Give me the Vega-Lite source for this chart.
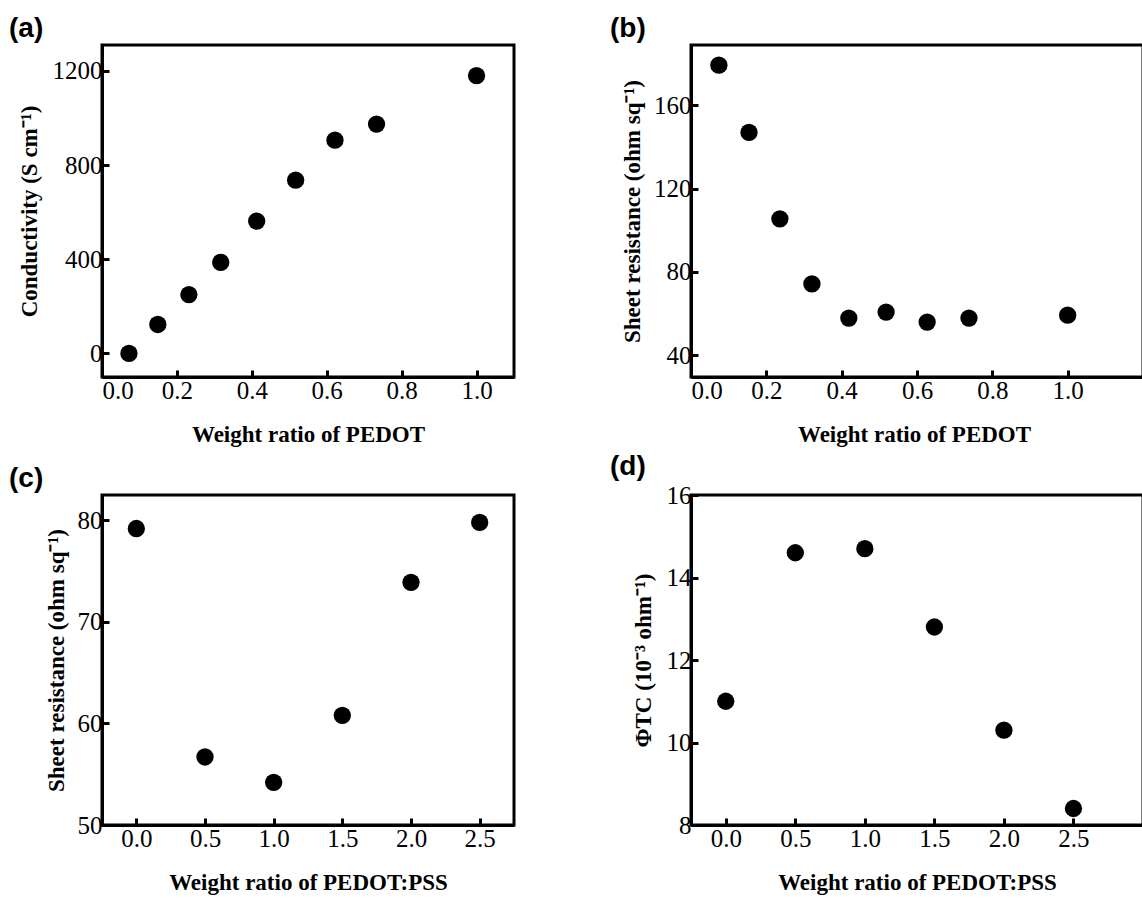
{
  "$schema": "https://vega.github.io/schema/vega-lite/v6.json",
  "background": "white",
  "padding": {"left": 7, "top": 13, "right": 0, "bottom": 0},
  "datasets": {
    "a": [
      {"x": 0.072, "y": 0}, {"x": 0.149, "y": 123}, {"x": 0.232, "y": 250}, {"x": 0.317, "y": 387},
      {"x": 0.413, "y": 562}, {"x": 0.517, "y": 736}, {"x": 0.622, "y": 906}, {"x": 0.733, "y": 974}, {"x": 1.0, "y": 1180}
    ],
    "b": [
      {"x": 0.074, "y": 179.3}, {"x": 0.154, "y": 147}, {"x": 0.236, "y": 105.5}, {"x": 0.321, "y": 74.2},
      {"x": 0.419, "y": 57.8}, {"x": 0.518, "y": 60.7}, {"x": 0.627, "y": 55.9}, {"x": 0.738, "y": 57.8}, {"x": 1.0, "y": 59.2}
    ],
    "c": [
      {"x": 0.0, "y": 79.2}, {"x": 0.5, "y": 56.7}, {"x": 1.0, "y": 54.2}, {"x": 1.5, "y": 60.8}, {"x": 2.0, "y": 73.9}, {"x": 2.5, "y": 79.8}
    ],
    "d": [
      {"x": 0.0, "y": 11.0}, {"x": 0.5, "y": 14.6}, {"x": 1.0, "y": 14.7}, {"x": 1.5, "y": 12.8}, {"x": 2.0, "y": 10.3}, {"x": 2.5, "y": 8.4}
    ]
  },
  "config": {
    "view": {"stroke": "black", "strokeWidth": 3},
    "axis": {
      "zindex": 1,
      "domain": true, "domainColor": "black", "domainWidth": 3,
      "ticks": true, "tickColor": "#000000", "tickOpacity": 1, "tickWidth": 3, "tickSize": -7, "tickCap": "butt",
      "grid": false,
      "labelFont": "Liberation Serif", "labelFontSize": 25, "labelColor": "black", "labelPadding": 7,
      "titleFont": "Liberation Serif", "titleFontSize": 23, "titleFontWeight": "bold", "titleColor": "black"
    },
    "axisX": {"labelPadding": 8, "titlePadding": 20},
    "axisY": {"titlePadding": 11},
    "title": {"font": "Liberation Sans", "fontSize": 28, "fontWeight": "bold", "anchor": "start", "color": "black", "frame": "group", "offset": 2},
    "point": {"filled": true, "color": "black", "opacity": 1, "size": 300}
  },
  "columns": 2,
  "spacing": {"row": 118, "column": 177},
  "bounds": "flush",
  "concat": [
    {
      "title": {"text": "(a)", "dx": -93},
      "width": 412, "height": 332,
      "data": {"name": "a"},
      "mark": {"type": "point", "clip": false},
      "encoding": {
        "x": {"field": "x", "type": "quantitative", "scale": {"domain": [0, 1.1], "nice": false, "zero": false},
              "axis": {"title": "Weight ratio of PEDOT", "values": [0, 0.2, 0.4, 0.6, 0.8, 1.0], "format": ".1f", "tickSize": -7, "ticks": true}},
        "y": {"field": "y", "type": "quantitative", "scale": {"domain": [-100, 1310], "nice": false, "zero": false},
              "axis": {"title": "Conductivity (S cm⁻¹)", "values": [0, 400, 800, 1200], "format": "d", "tickSize": -7, "ticks": true}}
      }
    },
    {
      "title": {"text": "(b)", "dx": -81},
      "width": 452, "height": 332,
      "data": {"name": "b"},
      "mark": {"type": "point", "clip": false},
      "encoding": {
        "x": {"field": "x", "type": "quantitative", "scale": {"domain": [0, 1.2], "nice": false, "zero": false},
              "axis": {"title": "Weight ratio of PEDOT", "values": [0, 0.2, 0.4, 0.6, 0.8, 1.0], "format": ".1f", "titleX": 223, "tickSize": -7, "ticks": true}},
        "y": {"field": "y", "type": "quantitative", "scale": {"domain": [29.5, 189], "nice": false, "zero": false},
              "axis": {"title": "Sheet resistance (ohm sq⁻¹)", "values": [40, 80, 120, 160], "format": "d", "titlePadding": 9, "tickSize": -7, "ticks": true}}
      }
    },
    {
      "title": {"text": "(c)", "dx": -93},
      "width": 412, "height": 330,
      "data": {"name": "c"},
      "mark": {"type": "point", "clip": false},
      "encoding": {
        "x": {"field": "x", "type": "quantitative", "scale": {"domain": [-0.25, 2.75], "nice": false, "zero": false},
              "axis": {"title": "Weight ratio of PEDOT:PSS", "values": [0, 0.5, 1.0, 1.5, 2.0, 2.5], "format": ".1f", "tickSize": -7, "ticks": true}},
        "y": {"field": "y", "type": "quantitative", "scale": {"domain": [50, 82.5], "nice": false, "zero": false},
              "axis": {"title": "Sheet resistance (ohm sq⁻¹)", "values": [50, 60, 70, 80], "format": "d", "titlePadding": 9, "tickSize": -7, "ticks": true}}
      }
    },
    {
      "title": {"text": "(d)", "dx": -81},
      "width": 452, "height": 330,
      "data": {"name": "d"},
      "mark": {"type": "point", "clip": false},
      "encoding": {
        "x": {"field": "x", "type": "quantitative", "scale": {"domain": [-0.25, 3.0], "nice": false, "zero": false},
              "axis": {"title": "Weight ratio of PEDOT:PSS", "values": [0, 0.5, 1.0, 1.5, 2.0, 2.5], "format": ".1f", "tickSize": -7, "ticks": true}},
        "y": {"field": "y", "type": "quantitative", "scale": {"domain": [8, 16], "nice": false, "zero": false},
              "axis": {"title": "ΦTC (10⁻³ ohm⁻¹)", "values": [8, 10, 12, 14, 16], "format": "d", "tickSize": -7, "ticks": true}}
      }
    }
  ]
}
